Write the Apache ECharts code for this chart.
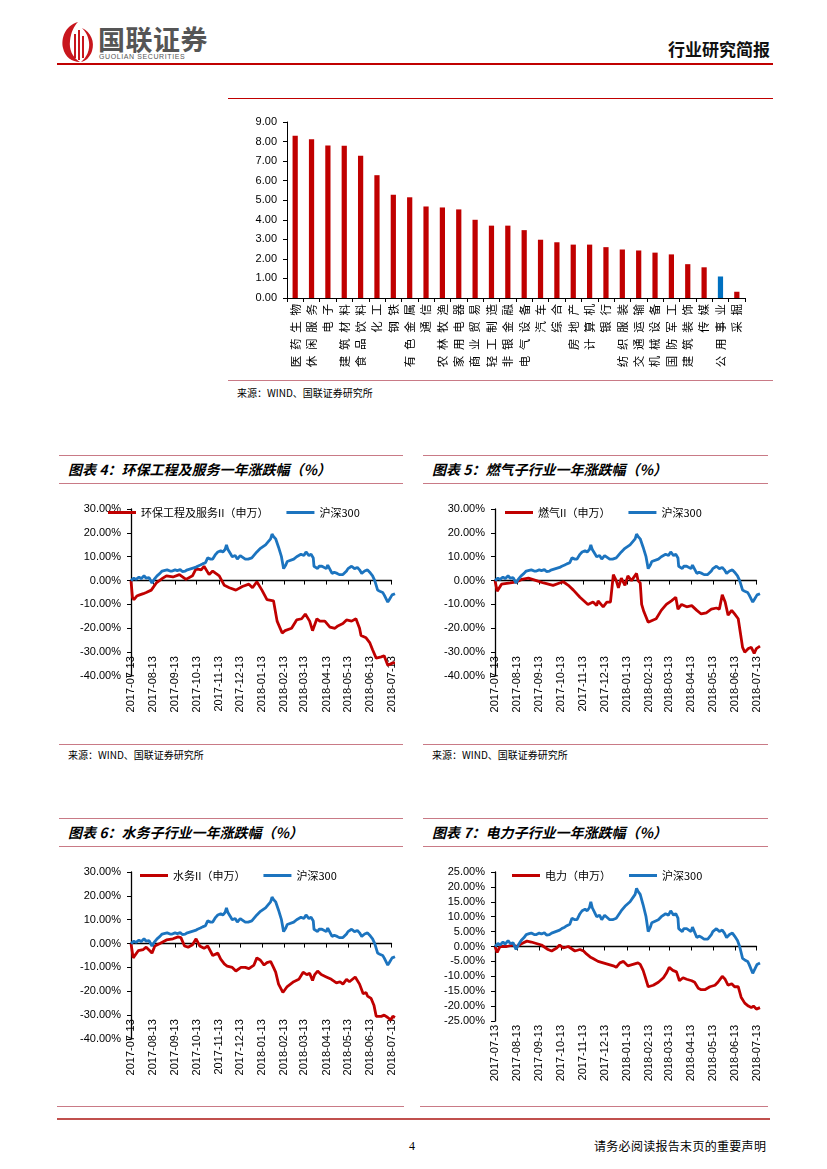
<!DOCTYPE html>
<html><head><meta charset="utf-8">
<script src="https://cdn.jsdelivr.net/npm/echarts@6/dist/echarts.min.js"></script>
<style>
body{margin:0;background:#fff;}
#page{position:relative;width:827px;height:1169px;overflow:hidden;font-family:"Noto Sans CJK SC",sans-serif;background:#fff;}
.abs{position:absolute;}
.hl{position:absolute;height:0;border-top:1px solid #c97a86;}
.title{position:absolute;font-size:14px;font-weight:bold;font-style:italic;color:#000;white-space:nowrap;line-height:16px;}
.src{position:absolute;font-size:10px;color:#000;white-space:nowrap;line-height:12px;}
.ch{position:absolute;}
</style></head>
<body><div id="page">
<!-- header -->
<svg class="abs" style="left:60px;top:20px" width="36" height="44" viewBox="0 0 36 44">
  <path d="M18 2 C5 6 1 18 3 28 C5 37 12 42 20 42 C12 37 9 29 10 21 C11 12 14 6 18 2 Z" fill="#c8161d"/>
  <path d="M22 8 C31 12 35 22 32 31 C30 37 26 41 21 42 C27 37 30 30 29 22 C28 15 25 11 22 8 Z" fill="#c8161d"/>
  <rect x="14" y="14" width="2" height="24" fill="#c8161d"/>
  <rect x="18" y="10" width="2" height="30" fill="#c8161d"/>
  <rect x="22" y="16" width="2" height="22" fill="#c8161d"/>
</svg>
<div class="abs" style="left:98px;top:23px;font-size:27px;font-weight:bold;color:#555;letter-spacing:0.5px;line-height:31px;">国联证券</div>
<div class="abs" style="left:99px;top:53px;font-size:7px;color:#555;font-family:'Liberation Sans',sans-serif;line-height:8px;letter-spacing:0.6px;">GUOLIAN SECURITIES</div>
<div class="abs" style="left:668px;top:38px;font-size:17px;font-weight:bold;color:#111;line-height:22px;">行业研究简报</div>
<div class="abs" style="left:57px;top:63px;width:716px;height:2px;background:#c00000;"></div>

<!-- bar chart section -->
<div class="abs" style="left:228px;top:98px;width:545px;height:1px;background:#c00000;"></div>
<div id="cBar" class="ch" style="left:228px;top:105px;width:545px;height:272px;"></div>
<div class="hl" style="left:228px;top:380px;width:545px;"></div>
<div class="src" style="left:237px;top:387px;">来源：WIND、国联证券研究所</div>

<!-- chart 4 / 5 titles -->
<div class="hl" style="left:59px;top:455px;width:344px;"></div>
<div class="title" style="left:68px;top:461px;">图表 4：环保工程及服务一年涨跌幅（%）</div>
<div class="hl" style="left:59px;top:483px;width:344px;"></div>
<div class="hl" style="left:423px;top:455px;width:345px;"></div>
<div class="title" style="left:432px;top:461px;">图表 5：燃气子行业一年涨跌幅（%）</div>
<div class="hl" style="left:423px;top:483px;width:345px;"></div>

<div id="c4" class="ch" style="left:60px;top:495px;width:337px;height:240px;"></div>
<div id="c5" class="ch" style="left:423px;top:495px;width:339px;height:240px;"></div>

<div class="hl" style="left:59px;top:744px;width:344px;"></div>
<div class="src" style="left:68px;top:749px;">来源：WIND、国联证券研究所</div>
<div class="hl" style="left:423px;top:744px;width:345px;"></div>
<div class="src" style="left:432px;top:749px;">来源：WIND、国联证券研究所</div>

<!-- chart 6 / 7 titles -->
<div class="hl" style="left:59px;top:818px;width:344px;"></div>
<div class="title" style="left:68px;top:824px;">图表 6：水务子行业一年涨跌幅（%）</div>
<div class="hl" style="left:59px;top:846px;width:344px;"></div>
<div class="hl" style="left:423px;top:818px;width:345px;"></div>
<div class="title" style="left:432px;top:824px;">图表 7：电力子行业一年涨跌幅（%）</div>
<div class="hl" style="left:423px;top:846px;width:345px;"></div>

<div id="c6" class="ch" style="left:60px;top:858px;width:337px;height:240px;"></div>
<div id="c7" class="ch" style="left:423px;top:858px;width:339px;height:240px;"></div>

<!-- footer -->
<div class="hl" style="left:57px;top:1106px;width:347px;"></div>
<div class="hl" style="left:420px;top:1106px;width:348px;"></div>
<div class="abs" style="left:57px;top:1118px;width:713px;height:2px;background:#c0504d;"></div>
<div class="abs" style="left:409px;top:1139px;font-size:12px;color:#000;line-height:14px;font-family:'Liberation Serif',serif;">4</div>
<div class="abs" style="left:594px;top:1139px;font-size:12px;color:#000;line-height:14px;letter-spacing:0.3px;">请务必阅读报告末页的重要声明</div>
</div>

<script>
// ---------- bar chart data ----------
const barCategories = ['医药生物','休闲服务','电子','建筑材料','食品饮料','化工','钢铁','有色金属','通信','农林牧渔','家用电器','商业贸易','轻工制造','非银金融','电气设备','汽车','综合','房地产','计算机','银行','纺织服装','交通运输','机械设备','国防军工','建筑装饰','传媒','公用事业','采掘'];
const barValues = [8.30,8.12,7.80,7.78,7.28,6.28,5.28,5.15,4.68,4.63,4.53,4.00,3.70,3.70,3.47,2.98,2.85,2.73,2.73,2.60,2.48,2.43,2.32,2.23,1.73,1.57,1.10,0.32];
const highlightCategory = '公用事业';

// ---------- line charts data ----------
const dateStart = '2017-07-13';
const dateEnd = '2018-07-13';
const hs300Name = '沪深300';
const hs300 = [['2017-07-13',0],['2017-07-17',1],['2017-07-20',0.5],['2017-07-24',1.5],['2017-07-27',0.8],['2017-07-31',2],['2017-08-03',1],['2017-08-07',1.2],['2017-08-11',-1],['2017-08-14',0.5],['2017-08-18',2],['2017-08-22',3],['2017-08-25',4],['2017-08-29',4.3],['2017-09-01',4.5],['2017-09-05',4],['2017-09-08',4],['2017-09-12',4.5],['2017-09-15',4.2],['2017-09-19',4.6],['2017-09-22',3.8],['2017-09-26',4],['2017-09-29',4.5],['2017-10-10',5.5],['2017-10-13',6],['2017-10-17',6.5],['2017-10-20',7],['2017-10-24',7.5],['2017-10-27',9.5],['2017-10-31',9],['2017-11-03',9],['2017-11-07',11],['2017-11-10',12],['2017-11-14',12.5],['2017-11-17',12],['2017-11-20',13],['2017-11-22',15],['2017-11-24',13],['2017-11-28',11],['2017-11-30',10],['2017-12-04',10.5],['2017-12-07',9],['2017-12-11',10.5],['2017-12-13',10],['2017-12-18',9],['2017-12-20',9.5],['2017-12-22',9],['2017-12-27',9.5],['2017-12-29',10],['2018-01-03',12],['2018-01-08',13.5],['2018-01-10',14],['2018-01-15',15],['2018-01-17',15.5],['2018-01-22',17.5],['2018-01-24',19.5],['2018-01-26',18.5],['2018-01-29',17.5],['2018-01-31',17],['2018-02-02',14],['2018-02-06',10],['2018-02-09',5],['2018-02-12',6.5],['2018-02-14',8],['2018-02-23',9],['2018-02-27',10],['2018-03-01',10],['2018-03-05',11],['2018-03-07',11.5],['2018-03-09',10.5],['2018-03-12',12],['2018-03-16',10.5],['2018-03-19',11],['2018-03-22',9.5],['2018-03-23',6],['2018-03-28',5],['2018-03-30',6],['2018-04-03',6],['2018-04-09',5],['2018-04-11',6.5],['2018-04-13',6],['2018-04-17',3],['2018-04-20',3.5],['2018-04-24',3],['2018-04-27',2.5],['2018-05-02',2.5],['2018-05-07',4],['2018-05-09',5],['2018-05-14',6],['2018-05-16',6],['2018-05-18',5],['2018-05-22',5.5],['2018-05-25',4.5],['2018-05-28',3],['2018-06-01',4],['2018-06-05',4.5],['2018-06-08',3.5],['2018-06-12',2],['2018-06-15',0],['2018-06-19',-4],['2018-06-22',-4.5],['2018-06-26',-5],['2018-06-28',-6],['2018-07-03',-9],['2018-07-05',-8],['2018-07-09',-6],['2018-07-13',-5.5]];

const huanbaoName = '环保工程及服务II（申万）';
const huanbao = [['2017-07-13',0],['2017-07-15',-7],['2017-07-17',-8],['2017-07-21',-6.5],['2017-07-25',-6],['2017-07-30',-5.5],['2017-08-03',-5],['2017-08-10',-4],['2017-08-17',-1],['2017-08-26',1],['2017-08-31',2],['2017-09-09',1.5],['2017-09-18',2.5],['2017-09-27',0.5],['2017-10-06',2],['2017-10-11',5],['2017-10-18',4.5],['2017-10-22',6],['2017-10-29',2.5],['2017-11-03',4],['2017-11-12',2],['2017-11-19',-2],['2017-11-26',-3],['2017-12-05',-4],['2017-12-14',-2.5],['2017-12-23',-1.5],['2017-12-28',-3],['2018-01-03',-0.5],['2018-01-10',-4],['2018-01-17',-8],['2018-01-26',-8.5],['2018-01-31',-17],['2018-02-07',-22],['2018-02-11',-21],['2018-02-20',-20],['2018-02-27',-16.5],['2018-03-06',-16],['2018-03-11',-14],['2018-03-17',-17],['2018-03-21',-21],['2018-03-27',-16],['2018-03-31',-17],['2018-04-07',-17],['2018-04-14',-19.5],['2018-04-21',-20],['2018-04-25',-19],['2018-05-02',-18],['2018-05-07',-16.5],['2018-05-14',-17],['2018-05-20',-16],['2018-05-25',-20],['2018-05-27',-23],['2018-06-03',-24],['2018-06-08',-26],['2018-06-12',-29],['2018-06-17',-32.5],['2018-06-24',-32],['2018-06-28',-31.5],['2018-07-03',-35.5],['2018-07-10',-34.5],['2018-07-13',-34.5]];

const ranqiName = '燃气II（申万）';
const ranqi = [['2017-07-13',0],['2017-07-16',-4.5],['2017-07-22',-1.5],['2017-08-03',-1],['2017-08-12',-0.5],['2017-08-19',0.5],['2017-08-28',1],['2017-09-08',0],['2017-09-18',-1],['2017-10-01',-2],['2017-10-10',-1],['2017-10-15',-0.5],['2017-10-22',-2],['2017-10-29',-4],['2017-11-07',-7],['2017-11-18',-10],['2017-11-25',-9],['2017-11-30',-10.5],['2017-12-02',-8.5],['2017-12-09',-11],['2017-12-14',-9],['2017-12-19',-9],['2017-12-23',2.5],['2017-12-27',0],['2017-12-30',-3],['2018-01-03',1],['2018-01-08',-2],['2018-01-12',2],['2018-01-17',0],['2018-01-24',3],['2018-01-26',0],['2018-01-29',-1],['2018-01-31',-10],['2018-02-03',-13],['2018-02-09',-17.5],['2018-02-16',-16.5],['2018-02-20',-16],['2018-02-27',-12.5],['2018-03-06',-10],['2018-03-13',-8.5],['2018-03-15',-9],['2018-03-19',-7],['2018-03-22',-12],['2018-03-27',-10],['2018-04-03',-11],['2018-04-10',-10.5],['2018-04-17',-12.5],['2018-04-23',-14],['2018-04-30',-13.5],['2018-05-07',-12],['2018-05-14',-11.5],['2018-05-18',-12],['2018-05-22',-6],['2018-05-26',-9],['2018-05-30',-14.5],['2018-06-04',-12.5],['2018-06-08',-14],['2018-06-13',-16],['2018-06-16',-22],['2018-06-19',-28],['2018-06-22',-30],['2018-06-27',-28.5],['2018-07-01',-28],['2018-07-05',-30.5],['2018-07-08',-28.5],['2018-07-13',-27.5]];

const shuiwuName = '水务II（申万）';
const shuiwu = [['2017-07-13',0],['2017-07-16',-6],['2017-07-23',-3],['2017-07-30',-2.5],['2017-08-03',-1.5],['2017-08-08',-3],['2017-08-11',-4],['2017-08-15',-1],['2017-08-22',0],['2017-08-31',1.5],['2017-09-09',2],['2017-09-16',2.8],['2017-09-20',2.5],['2017-09-25',-1],['2017-09-30',-1.5],['2017-10-06',-0.5],['2017-10-11',2],['2017-10-16',-1],['2017-10-22',-2],['2017-10-27',-1],['2017-11-03',-5],['2017-11-10',-4],['2017-11-14',-6.5],['2017-11-19',-8.5],['2017-11-23',-9.5],['2017-11-30',-10],['2017-12-05',-11.5],['2017-12-12',-10],['2017-12-18',-10],['2017-12-23',-10.5],['2017-12-30',-9],['2018-01-03',-6],['2018-01-08',-7],['2018-01-13',-9],['2018-01-17',-8],['2018-01-22',-7.5],['2018-01-26',-10],['2018-01-29',-12],['2018-02-02',-17],['2018-02-08',-20.5],['2018-02-14',-18],['2018-02-23',-16],['2018-03-02',-15],['2018-03-08',-12],['2018-03-13',-13],['2018-03-17',-12.5],['2018-03-21',-15.5],['2018-03-24',-13],['2018-03-28',-11.5],['2018-04-02',-13],['2018-04-09',-14],['2018-04-16',-15],['2018-04-23',-16.5],['2018-04-28',-16],['2018-05-02',-17],['2018-05-07',-15],['2018-05-11',-16],['2018-05-19',-14],['2018-05-25',-17],['2018-05-30',-21],['2018-06-03',-20.5],['2018-06-05',-22],['2018-06-10',-23],['2018-06-14',-26],['2018-06-17',-30.5],['2018-06-24',-30.5],['2018-06-28',-30],['2018-07-03',-31],['2018-07-07',-32],['2018-07-10',-30.5],['2018-07-13',-31]];

const dianliName = '电力（申万）';
const dianli = [['2017-07-13',0],['2017-07-16',-2],['2017-07-20',0],['2017-07-29',0],['2017-08-07',0.5],['2017-08-12',0],['2017-08-19',1],['2017-08-26',1.8],['2017-09-01',1.5],['2017-09-08',1],['2017-09-15',0.5],['2017-09-24',-1],['2017-09-29',-1.5],['2017-10-06',-0.5],['2017-10-10',0.5],['2017-10-15',-0.5],['2017-10-22',0],['2017-10-31',-1.5],['2017-11-07',-1],['2017-11-12',-1.5],['2017-11-16',-2.5],['2017-11-21',-3.5],['2017-11-25',-4],['2017-12-02',-5],['2017-12-09',-5.5],['2017-12-16',-6],['2017-12-23',-6.5],['2017-12-27',-7],['2018-01-01',-5.5],['2018-01-06',-5],['2018-01-12',-6.5],['2018-01-19',-6],['2018-01-26',-5.5],['2018-01-29',-6],['2018-02-02',-8],['2018-02-04',-9.5],['2018-02-09',-13.5],['2018-02-16',-13],['2018-02-23',-12],['2018-03-02',-10.5],['2018-03-06',-9],['2018-03-10',-7],['2018-03-15',-8],['2018-03-20',-8.5],['2018-03-24',-11.5],['2018-03-29',-10.5],['2018-04-03',-11],['2018-04-10',-11.5],['2018-04-14',-12],['2018-04-19',-14],['2018-04-23',-14.5],['2018-04-28',-14.5],['2018-05-05',-13.5],['2018-05-12',-13],['2018-05-16',-12],['2018-05-22',-10],['2018-05-26',-11],['2018-05-30',-13],['2018-06-04',-12.5],['2018-06-08',-13.5],['2018-06-13',-13.5],['2018-06-17',-17],['2018-06-22',-19],['2018-06-27',-20],['2018-07-01',-20.5],['2018-07-04',-20],['2018-07-08',-21],['2018-07-13',-20.5]];

// ---------- helpers ----------
const RED = '#C00000', BLUE = '#1C74BF', AX = '#000';
function dayList(a, b) {
  const out = []; let t = Date.parse(a + 'T00:00:00Z'); const e = Date.parse(b + 'T00:00:00Z');
  while (t <= e) { out.push(new Date(t).toISOString().slice(0, 10)); t += 86400000; }
  return out;
}
const days = dayList(dateStart, dateEnd);
const isTick = (i, v) => v.slice(8) === '13';
const pct = v => v.toFixed(2) + '%';
const lblFont = {fontSize: 11, color: '#000', fontFamily: 'Liberation Sans, Arial, sans-serif'};

// bar chart
const cBar = echarts.init(document.getElementById('cBar'), null, {renderer: 'canvas'});
cBar.setOption({
  animation: false,
  grid: {left: 59, top: 17, width: 458, height: 176},
  xAxis: {type: 'category', data: barCategories,
    axisLine: {lineStyle: {color: AX, width: 1}},
    axisTick: {show: true, length: 4, lineStyle: {color: AX}},
    axisLabel: {rotate: 90, interval: 0, margin: 6, fontSize: 11.5, color: '#000', fontFamily: 'Noto Sans CJK SC',
      formatter: v => v.split('').join('\u2002')}},
  yAxis: {type: 'value', min: 0, max: 9, interval: 1,
    axisLine: {show: true, lineStyle: {color: AX}},
    axisTick: {show: true, length: 4, lineStyle: {color: AX}},
    axisLabel: Object.assign({formatter: v => v.toFixed(2), margin: 10}, lblFont),
    splitLine: {show: false}},
  series: [{type: 'bar', barWidth: '32%',
    data: barValues.map((v, i) => ({value: v, itemStyle: {color: barCategories[i] === highlightCategory ? '#0070C0' : RED}}))}]
});

function lineChart(id, cfg) {
  const ch = echarts.init(document.getElementById(id), null, {renderer: 'canvas'});
  const H = cfg.gh;
  const pxPer = H / (cfg.max - cfg.min);
  const axisH = (cfg.max - cfg.axisAt) * pxPer;
  const grids = [
    {left: cfg.gl, top: 14, width: cfg.gw, height: H},
    {left: cfg.gl, top: 14, width: cfg.gw, height: axisH}
  ];
  const xAxes = [
    {type: 'category', gridIndex: 0, data: days, boundaryGap: false, show: false},
    {type: 'category', gridIndex: 1, data: days, boundaryGap: false,
      axisLine: {lineStyle: {color: AX, width: 1.3}},
      axisTick: {show: true, interval: isTick, length: 4, lineStyle: {color: AX}},
      axisLabel: Object.assign({interval: isTick, rotate: 90, margin: 4}, lblFont),
      splitLine: {show: false}}
  ];
  const yAxes = [
    {type: 'value', gridIndex: 0, min: cfg.min, max: cfg.max, interval: cfg.step,
      axisLine: {show: true, lineStyle: {color: AX, width: 1.3}},
      axisTick: {show: true, length: 4, lineStyle: {color: AX}},
      axisLabel: Object.assign({formatter: pct, margin: 10}, lblFont),
      splitLine: {show: false}},
    {type: 'value', gridIndex: 1, min: cfg.axisAt, max: cfg.max, show: false, splitLine: {show: false}}
  ];
  ch.setOption({
    animation: false,
    legend: {left: cfg.legendLeft, top: 7, itemWidth: 28, itemHeight: 3, itemGap: 18, icon: 'rect',
      textStyle: {fontSize: 11, color: '#000', fontFamily: 'Noto Sans CJK SC'},
      data: [cfg.name, hs300Name]},
    grid: grids, xAxis: xAxes, yAxis: yAxes,
    series: [
      {name: cfg.name, type: 'line', xAxisIndex: 0, yAxisIndex: 0, data: cfg.data, symbol: 'none',
        lineStyle: {color: RED, width: 2.8}, itemStyle: {color: RED}, z: 3},
      {name: hs300Name, type: 'line', xAxisIndex: 0, yAxisIndex: 0, data: hs300, symbol: 'none',
        lineStyle: {color: BLUE, width: 2.8}, itemStyle: {color: BLUE}, z: 3}
    ]
  });
}

lineChart('c4', {name: huanbaoName, data: huanbao, gl: 71, gw: 264, gh: 167, min: -40, max: 30, step: 10, axisAt: -30, legendLeft: 43});
lineChart('c5', {name: ranqiName, data: ranqi, gl: 72, gw: 265, gh: 167, min: -40, max: 30, step: 10, axisAt: -30, legendLeft: 77});
lineChart('c6', {name: shuiwuName, data: shuiwu, gl: 71, gw: 264, gh: 167, min: -40, max: 30, step: 10, axisAt: -30, legendLeft: 75});
lineChart('c7', {name: dianliName, data: dianli, gl: 72, gw: 265, gh: 149, min: -25, max: 25, step: 5, axisAt: -25, legendLeft: 84});
</script>
</body></html>
